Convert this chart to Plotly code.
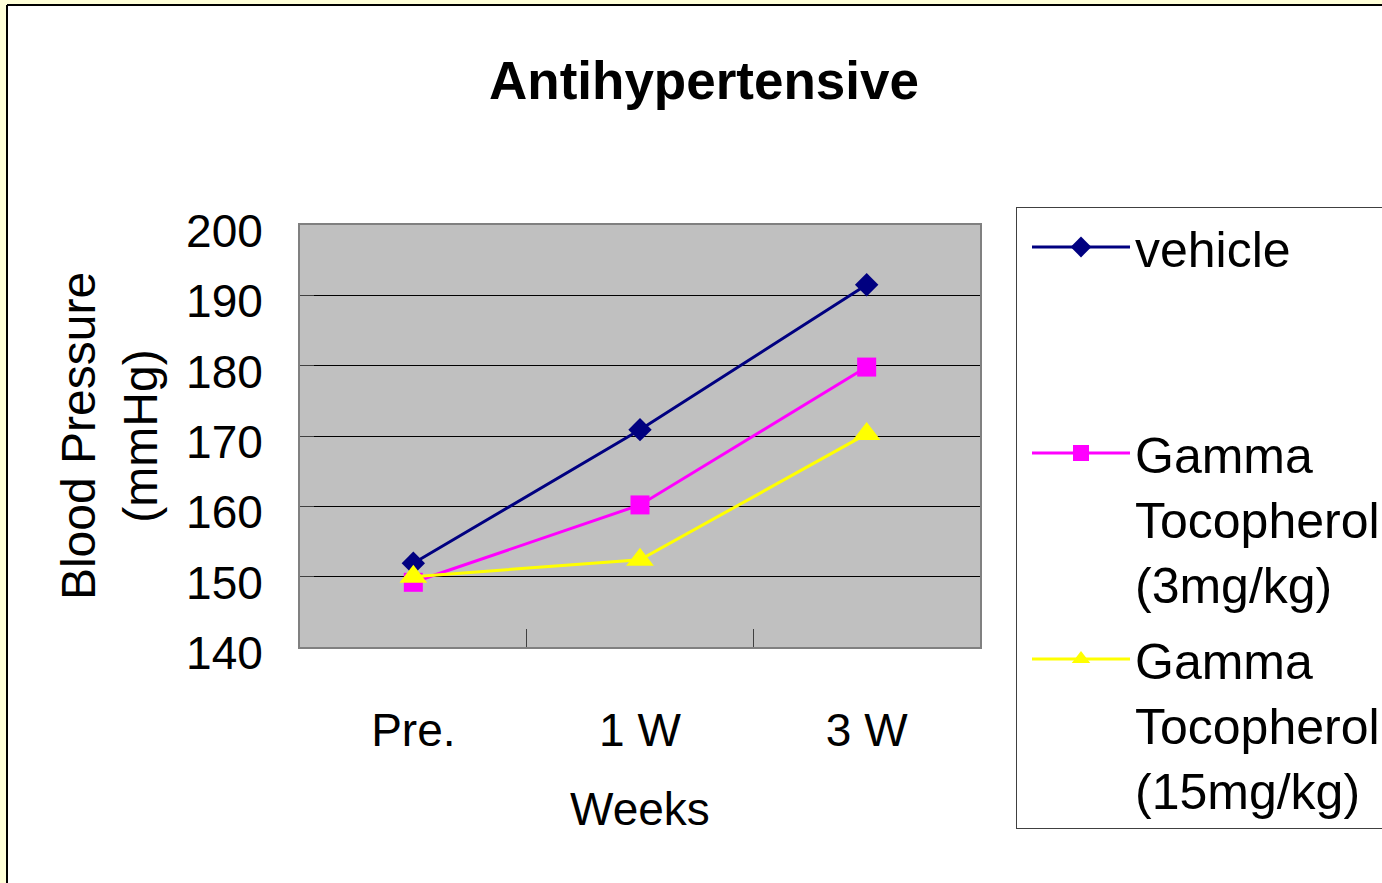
import plotly.graph_objects as go

categories = ["Pre.", "1 W", "3 W"]
vehicle = [151.9, 170.9, 191.5]
gamma_3 = [149.2, 160.2, 179.8]
gamma_15 = [150.0, 152.4, 170.3]
y_ticks = [140, 150, 160, 170, 180, 190, 200]

names = ["vehicle<br> <br> ", "Gamma<br>Tocopherol<br>(3mg/kg)", "Gamma<br>Tocopherol<br>(15mg/kg)"]
colors = ["#000080", "#FF00FF", "#FFFF00"]
symbols = ["diamond", "square", "triangle-up"]
sizes = [18, 19, 24]
series = [vehicle, gamma_3, gamma_15]

FONT = "Liberation Sans, Arial, sans-serif"

fig = go.Figure()
for i, (nm, vals, c, s, sz) in enumerate(zip(names, series, colors, symbols, sizes)):
    fig.add_trace(go.Scatter(
        x=categories, y=vals, name=nm, mode="lines+markers",
        legendgroup="g%d" % i,
        line=dict(color=c, width=3),
        marker=dict(symbol=s, size=sz, color=c, line=dict(width=0)),
        cliponaxis=False,
    ))

# pixel -> paper helpers (plot area 300..980 x, 225..647 y)
def px(x):
    return (x - 300) / 680.0

def py(y):
    return (647 - y) / 422.0

shapes = [
    dict(type="rect", xref="paper", yref="paper", x0=px(-5), x1=px(7), y0=py(900), y1=py(-5),
         fillcolor="#FFFFD8", line=dict(width=0), layer="below"),
    dict(type="rect", xref="paper", yref="paper", x0=px(-5), x1=px(1400), y0=py(5), y1=py(-5),
         fillcolor="#FFFFD8", line=dict(width=0), layer="below"),
    dict(type="line", xref="paper", yref="paper", x0=px(7), x1=px(7), y0=py(5), y1=py(900),
         line=dict(color="black", width=2), layer="below"),
    dict(type="line", xref="paper", yref="paper", x0=px(7), x1=px(1400), y0=py(5), y1=py(5),
         line=dict(color="black", width=2), layer="below"),
]

fig.update_layout(
    width=1382, height=883,
    margin=dict(l=300, r=402, t=225, b=236, autoexpand=False),
    paper_bgcolor="white",
    plot_bgcolor="#C0C0C0",
    font=dict(family=FONT, color="black", size=46),
    title=dict(text="<b>Antihypertensive</b>", x=704 / 1382, xanchor="center",
               y=1 - 80 / 883, yanchor="middle",
               font=dict(family=FONT, size=53, color="black")),
    showlegend=True,
    legend=dict(
        x=px(1016), xanchor="left", y=py(207), yanchor="top",
        bgcolor="white", bordercolor="#404040", borderwidth=1,
        font=dict(family=FONT, size=50, color="black"),
        valign="top", indentation=10, itemwidth=98,
        tracegroupgap=8, maxheight=700,
    ),
    shapes=shapes,
    xaxis=dict(
        type="category", range=[-0.5, 2.5],
        showline=True, mirror=True, linecolor="#808080", linewidth=2,
        ticks="inside", ticklen=18, tickcolor="#404040", tickwidth=1,
        tickson="boundaries",
        showgrid=False, zeroline=False,
        tickfont=dict(family=FONT, size=46),
        ticklabelstandoff=42,
        title=dict(text="Weeks", font=dict(family=FONT, size=46), standoff=38),
    ),
    yaxis=dict(
        range=[140, 200], tickvals=y_ticks,
        showline=True, mirror=True, linecolor="#808080", linewidth=2,
        ticks="inside", ticklen=14, tickcolor="#404040", tickwidth=1,
        showgrid=True, gridcolor="black", gridwidth=1,
        zeroline=False,
        tickfont=dict(family=FONT, size=46),
        ticklabelstandoff=26, ticklabelshift=6,
        title=dict(text="Blood Pressure<br>(mmHg)", font=dict(family=FONT, size=48), standoff=13),
    ),
)

fig.write_html("out.html", config={"displayModeBar": False},
               post_script="document.body.style.margin='0';document.body.style.overflow='hidden';")
